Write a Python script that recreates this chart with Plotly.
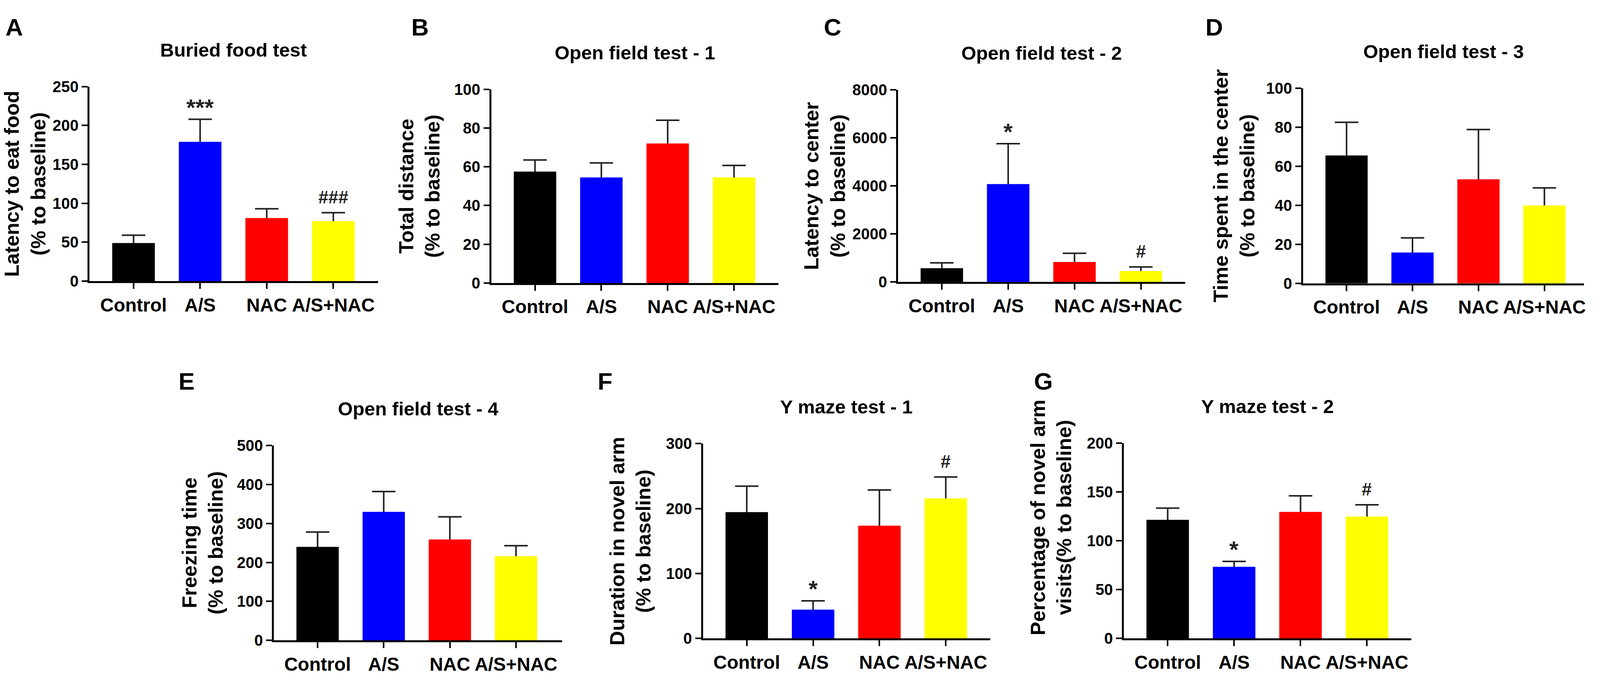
import plotly.graph_objects as go

W, H = 4317, 1752
FONT = 'Liberation Sans, Arial, sans-serif'

groups = ['Control', 'A/S', 'NAC', 'A/S+NAC']
bar_colors = ['#000000', '#0000ff', '#ff0000', '#ffff00']

# values: mean and SEM, % to baseline
buried_mean = [49, 179, 81, 77]
buried_sem = [10, 29, 12, 11]
buried_marks = ['', '***', '', '###']

open1_mean = [57.5, 54.5, 72, 54.5]
open1_sem = [6, 7.5, 12, 6.2]
open1_marks = ['', '', '', '']

open2_mean = [570, 4070, 830, 450]
open2_sem = [220, 1680, 360, 170]
open2_marks = ['', '*', '', '#']

open3_mean = [65.5, 15.8, 53.3, 39.9]
open3_sem = [17, 7.5, 25.5, 9]
open3_marks = ['', '', '', '']

open4_mean = [240, 330, 259, 216]
open4_sem = [38, 52, 58, 27]
open4_marks = ['', '', '', '']

ymaze1_mean = [194.5, 44.5, 173.6, 215.7]
ymaze1_sem = [40, 13.5, 55, 33]
ymaze1_marks = ['', '*', '', '#']

ymaze2_mean = [121.5, 73.5, 129.6, 124.9]
ymaze2_sem = [12, 5.5, 16.5, 12]
ymaze2_marks = ['', '*', '', '#']

# layout in reference pixels: axis box (left, right, top, bottom), y title offset, letter position
panels = [
    dict(letter='A', title='Buried food test', ytitle='Latency to eat food<br>(% to baseline)',
         mean=buried_mean, sem=buried_sem, marks=buried_marks, ymax=250, dtick=50,
         box=(242, 1021, 205, 716), xmax=3.67, yt=(-165, 0), lxy=(39, 49)),
    dict(letter='B', title='Open field test - 1', ytitle='Total distance<br>(% to baseline)',
         mean=open1_mean, sem=open1_sem, marks=open1_marks, ymax=100, dtick=20,
         box=(1327, 2103, 212, 721), xmax=3.67, yt=(-184, 0), lxy=(1135, 49)),
    dict(letter='C', title='Open field test - 2', ytitle='Latency to center<br>(% to baseline)',
         mean=open2_mean, sem=open2_sem, marks=open2_marks, ymax=8000, dtick=2000,
         box=(2426, 3202, 213, 718), xmax=3.67, yt=(-188, 0), lxy=(2249, 49)),
    dict(letter='D', title='Open field test - 3', ytitle='Time spent in the center<br>(% to baseline)',
         mean=open3_mean, sem=open3_sem, marks=open3_marks, ymax=100, dtick=20,
         box=(3520, 4279, 209, 722), xmax=3.6, yt=(-177, 0), lxy=(3280, 49)),
    dict(letter='E', title='Open field test - 4', ytitle='Freezing time<br>(% to baseline)',
         mean=open4_mean, sem=open4_sem, marks=open4_marks, ymax=500, dtick=100,
         box=(740, 1519, 1148, 1660), xmax=3.7, yt=(-183, 0), lxy=(504, 979)),
    dict(letter='F', title='Y maze test - 1', ytitle='Duration in novel arm<br>(% to baseline)',
         mean=ymaze1_mean, sem=ymaze1_sem, marks=ymaze1_marks, ymax=300, dtick=100,
         box=(1899, 2675, 1143, 1655), xmax=3.67, yt=(-186, 0), lxy=(1635, 979)),
    dict(letter='G', title='Y maze test - 2', ytitle='Percentage of novel arm<br>visits(% to baseline)',
         mean=ymaze2_mean, sem=ymaze2_sem, marks=ymaze2_marks, ymax=200, dtick=50,
         box=(3036, 3813, 1142, 1655), xmax=3.67, yt=(-186, 60), lxy=(2819, 979)),
]

fig = go.Figure()
annotations = []
layout_axes = {}

for i, p in enumerate(panels):
    n = '' if i == 0 else str(i + 1)
    xid, yid = 'x' + n, 'y' + n
    left, right, top, bottom = p['box']

    # error bars first (on see-through bars), then the solid bars hide the lower half
    fig.add_trace(go.Bar(
        x=groups, y=p['mean'], width=0.64, marker=dict(color='rgba(0,0,0,0)', line=dict(width=0)),
        error_y=dict(type='data', array=p['sem'], color='#222222', thickness=4, width=30),
        xaxis=xid, yaxis=yid, showlegend=False, hoverinfo='skip',
    ))
    fig.add_trace(go.Bar(
        x=groups, y=p['mean'], width=0.64,
        marker=dict(color=bar_colors, line=dict(width=0)),
        xaxis=xid, yaxis=yid, showlegend=False,
    ))

    layout_axes['xaxis' + n] = dict(
        domain=[left / W, right / W], anchor=yid, range=[-0.66, p['xmax']],
        showline=True, linecolor='black', linewidth=5, ticks='outside', ticklen=15,
        tickwidth=4, tickcolor='black', showgrid=False, zeroline=False,
        tickfont=dict(family=FONT, size=48, color='black', weight='bold'),
    )
    layout_axes['yaxis' + n] = dict(
        domain=[1 - bottom / H, 1 - top / H], anchor=xid, range=[0, p['ymax']],
        tick0=0, dtick=p['dtick'], showline=True, linecolor='black', linewidth=5,
        ticks='outside', ticklen=15, tickwidth=4, tickcolor='black',
        showgrid=False, zeroline=False,
        tickfont=dict(family=FONT, size=40, color='black', weight='bold'),
    )

    # panel title
    annotations.append(dict(
        text='<b>%s</b>' % p['title'], xref=xid + ' domain', x=0.5, yref=yid + ' domain', y=1,
        yshift=94, xanchor='center', yanchor='middle', showarrow=False,
        font=dict(family=FONT, size=49, color='black'),
    ))
    # y axis title
    annotations.append(dict(
        text='<b>%s</b>' % p['ytitle'], xref=xid + ' domain', x=0, xshift=p['yt'][0],
        yref=yid + ' domain', y=0.5, yshift=p['yt'][1], textangle=-90,
        xanchor='center', yanchor='middle', showarrow=False,
        font=dict(family=FONT, size=52, color='black'),
    ))
    # panel letter
    lx, ly = p['lxy']
    annotations.append(dict(
        text='<b>%s</b>' % p['letter'], xref='paper', x=lx / W, yref='paper', y=1 - ly / H,
        xanchor='center', yanchor='middle', showarrow=False,
        font=dict(family=FONT, size=62, color='black'),
    ))
    # significance marks above the error bars
    for g, m, s, mark in zip(groups, p['mean'], p['sem'], p['marks']):
        if not mark:
            continue
        star = mark.startswith('*')
        annotations.append(dict(
            text='<b>%s</b>' % mark, xref=xid, x=g, yref=yid, y=m + s,
            yshift=-5 if star else 12, xanchor='center', yanchor='bottom', showarrow=False,
            font=dict(family=FONT, size=60 if star else 46, color='#222222'),
        ))

fig.update_layout(
    autosize=True, margin=dict(l=0, r=0, t=0, b=0),
    paper_bgcolor='white', plot_bgcolor='white', barmode='overlay',
    annotations=annotations, **layout_axes,
)

# fill the browser window whatever its inner size
fit_page = ("document.body.style.margin='0';document.body.style.overflow='hidden';"
            "Plotly.Plots.resize(document.getElementById('{plot_id}'));")
fig.write_html('out.html', default_width='100vw', default_height='100vh',
               config={'displayModeBar': False}, post_script=fit_page)
